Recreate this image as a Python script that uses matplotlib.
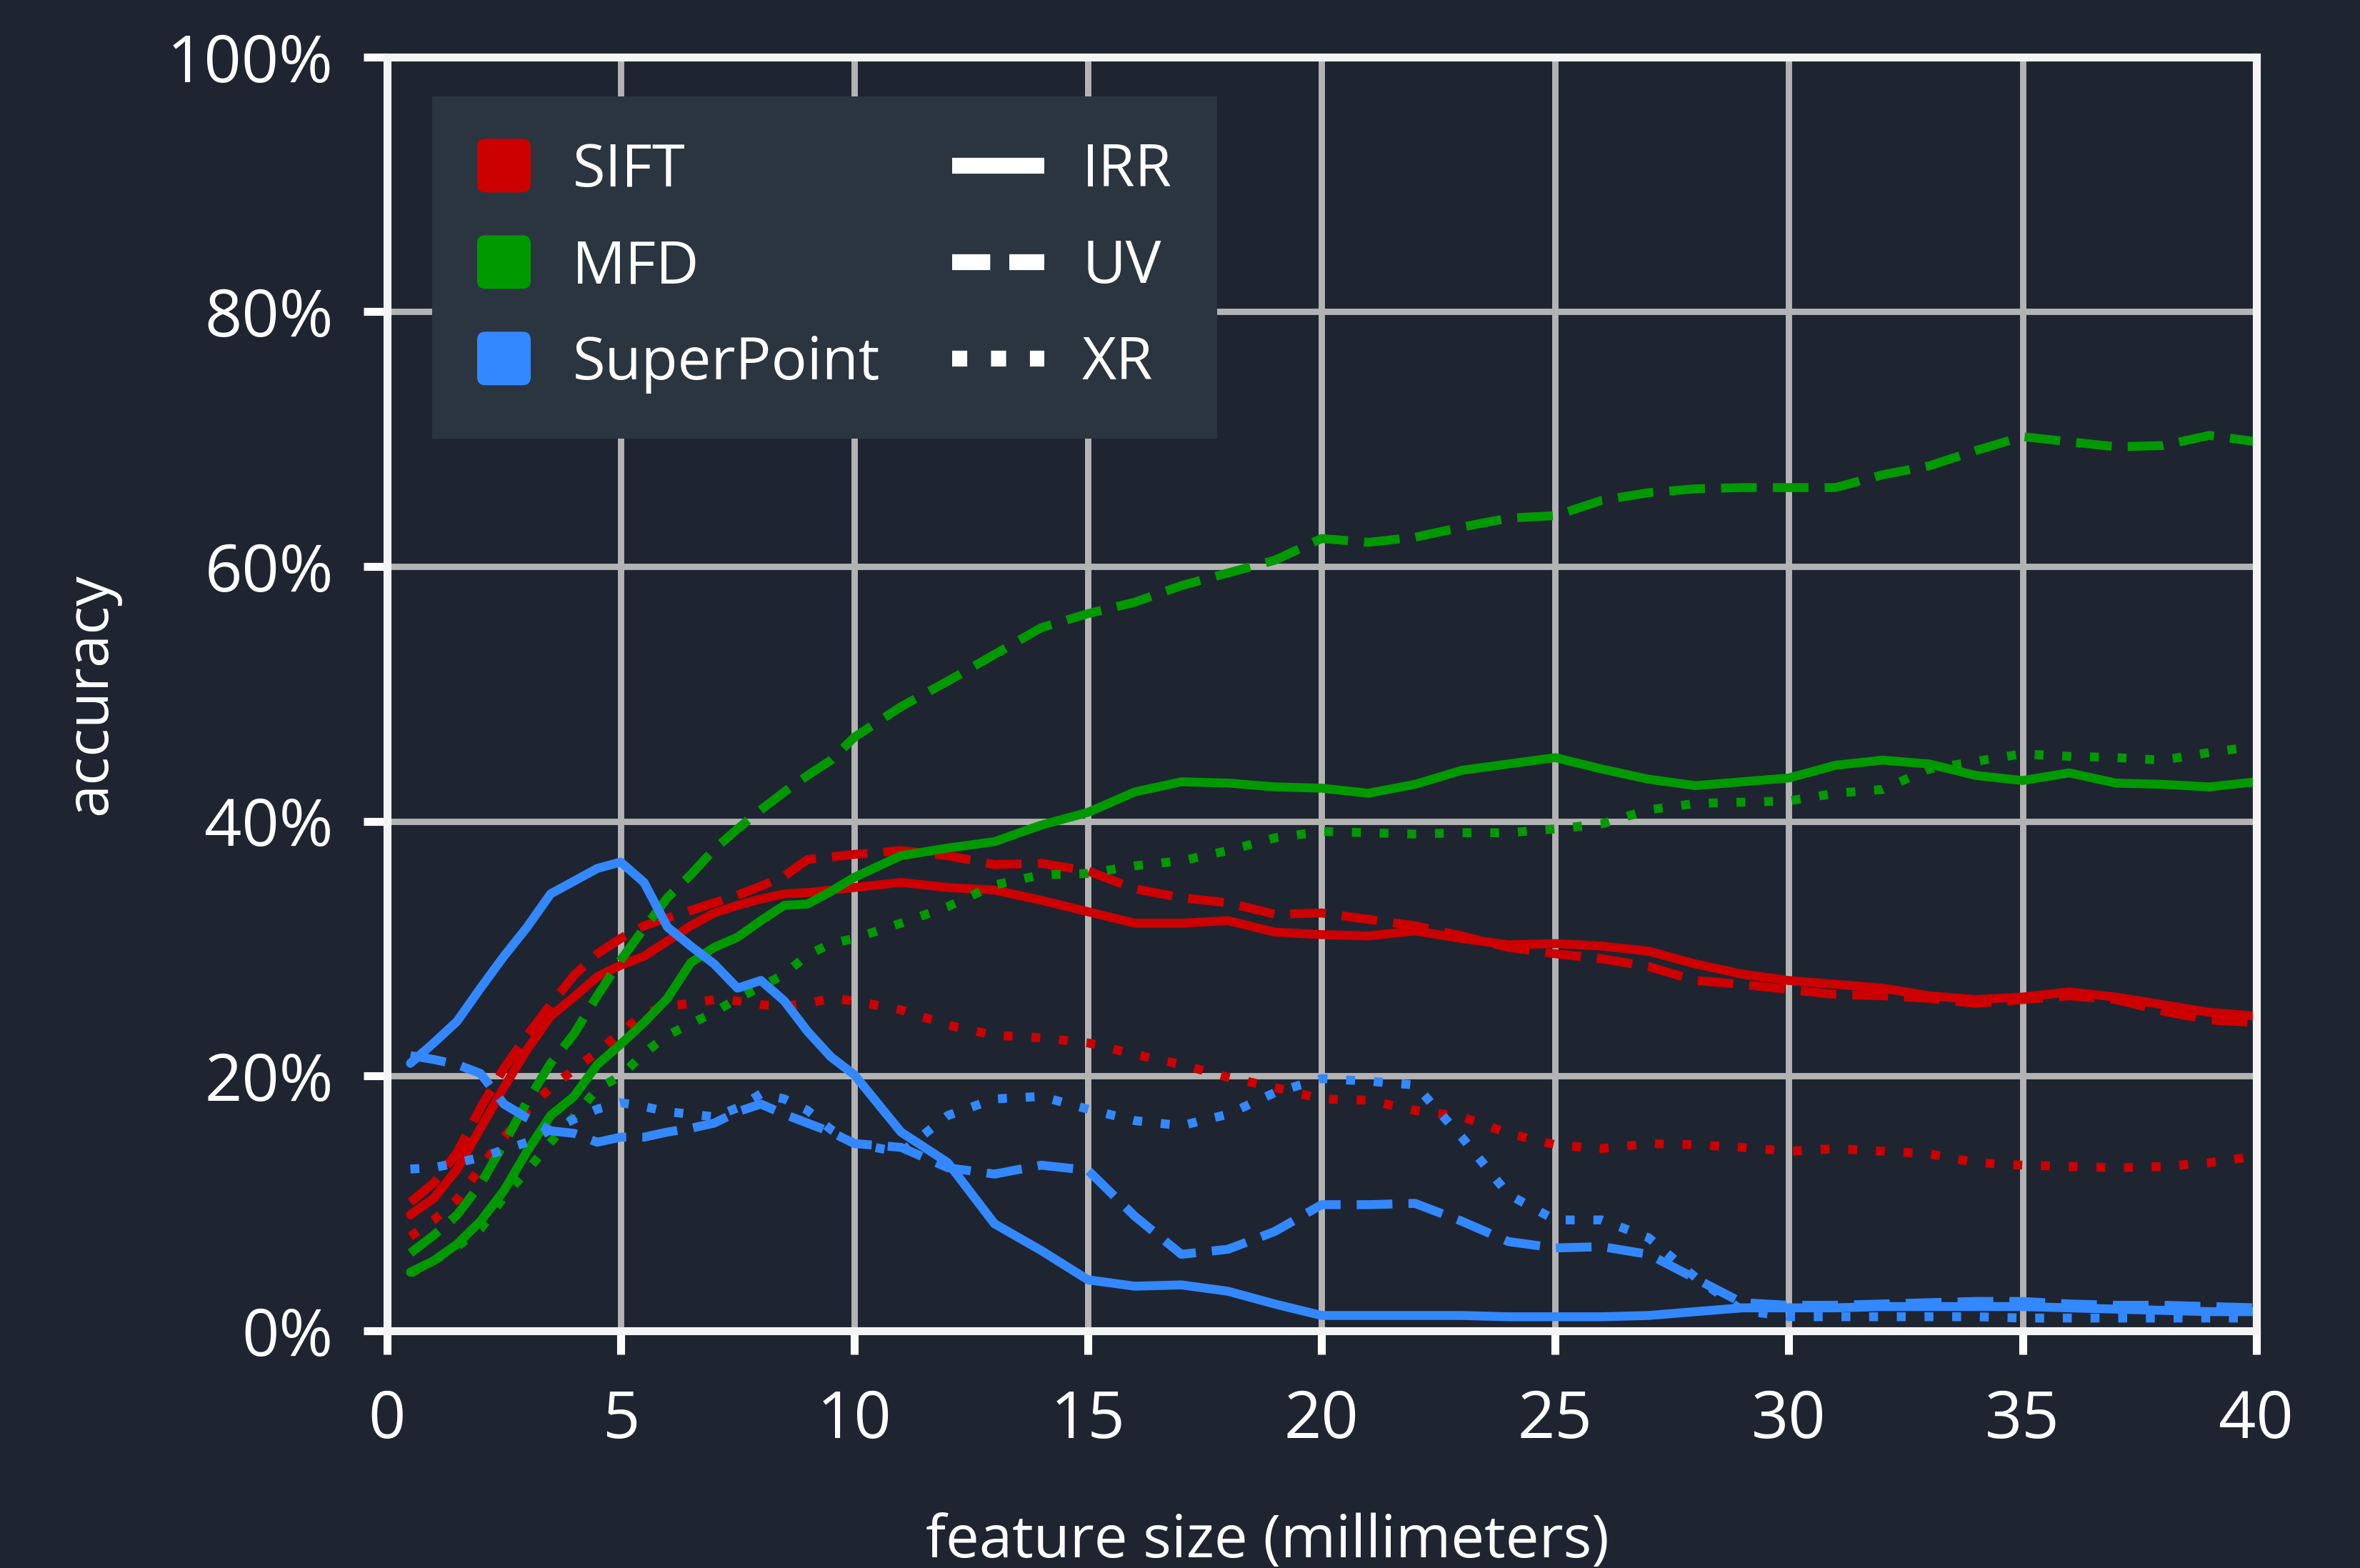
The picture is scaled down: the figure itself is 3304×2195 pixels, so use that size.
import numpy as np
import matplotlib
matplotlib.use('Agg')
import matplotlib.pyplot as plt
from matplotlib.lines import Line2D
from matplotlib.patches import Patch, FancyBboxPatch
from matplotlib.legend_handler import HandlerPatch, HandlerLine2D
from matplotlib.ticker import PercentFormatter

plt.rcParams['font.family'] = ['Open Sans', 'DejaVu Sans']

# %% data (accuracy in percent)
feature_mm = [0.5, 1.0, 1.5, 2.0, 2.5, 3.0, 3.5, 4.0, 4.5, 5.0,
              5.5, 6.0, 6.5, 7.0, 7.5, 8.0, 8.5, 9.0, 9.5, 10.0,
              11, 12, 13, 14, 15, 16, 17, 18, 19, 20,
              21, 22, 23, 24, 25, 26, 27, 28, 29, 30,
              31, 32, 33, 34, 35, 36, 37, 38, 39, 40]

sift_irr = [9.1, 10.4, 12.7, 15.9, 19.1, 22.1, 24.7, 26.2, 27.8, 28.7,
            29.4, 30.6, 31.8, 32.8, 33.4, 33.9, 34.3, 34.4, 34.6, 34.8,
            35.2, 34.8, 34.6, 33.8, 32.9, 32.0, 32.0, 32.2, 31.3, 31.1,
            31.0, 31.4, 30.8, 30.3, 30.4, 30.2, 29.8, 28.8, 28.0, 27.5,
            27.2, 26.9, 26.3, 26.0, 26.2, 26.6, 26.2, 25.6, 25.0, 24.7]
sift_uv = [10.1, 11.6, 14.0, 17.5, 20.6, 23.2, 25.6, 27.9, 29.6, 30.8,
           31.8, 32.4, 33.0, 33.6, 34.2, 34.9, 35.7, 37.0, 37.2, 37.4,
           37.7, 37.3, 36.6, 36.7, 36.1, 34.7, 34.0, 33.6, 32.7, 32.8,
           32.3, 31.8, 31.0, 30.1, 29.6, 29.2, 28.6, 27.5, 27.2, 26.8,
           26.4, 26.3, 26.1, 25.7, 26.0, 26.3, 26.0, 25.1, 24.4, 24.2]
sift_xr = [7.4, 8.7, 10.3, 12.8, 15.2, 17.3, 19.1, 20.5, 21.9, 23.4,
           24.9, 25.5, 25.7, 26.0, 25.9, 25.6, 25.5, 25.7, 26.1, 25.9,
           25.2, 24.0, 23.2, 23.0, 22.6, 21.7, 20.9, 19.9, 19.1, 18.2,
           18.1, 17.3, 16.8, 15.5, 14.6, 14.3, 14.7, 14.6, 14.4, 14.1,
           14.3, 14.1, 13.9, 13.2, 13.0, 12.9, 12.8, 12.9, 13.2, 13.7]

mfd_irr = [4.6, 5.5, 6.8, 8.6, 11.0, 14.1, 16.9, 18.4, 20.9, 22.5,
           24.2, 26.1, 28.9, 30.1, 30.9, 32.2, 33.4, 33.5, 34.5, 35.6,
           37.3, 37.9, 38.4, 39.7, 40.7, 42.3, 43.1, 43.0, 42.7, 42.6,
           42.2, 42.9, 44.0, 44.5, 45.0, 44.1, 43.3, 42.8, 43.1, 43.4,
           44.4, 44.8, 44.5, 43.6, 43.2, 43.8, 43.0, 42.9, 42.7, 43.1]
mfd_uv = [6.1, 7.5, 9.1, 11.5, 14.7, 18.0, 21.0, 23.3, 26.3, 29.1,
          31.6, 34.0, 35.8, 37.8, 39.4, 40.9, 42.3, 43.6, 44.8, 46.6,
          49.0, 51.0, 53.1, 55.2, 56.3, 57.2, 58.5, 59.5, 60.5, 62.2,
          61.9, 62.3, 63.1, 63.8, 64.0, 65.2, 65.8, 66.1, 66.2, 66.2,
          66.2, 67.2, 67.9, 69.1, 70.2, 69.8, 69.4, 69.5, 70.3, 69.8]
mfd_xr = [4.5, 5.5, 6.6, 8.0, 10.5, 12.6, 14.8, 16.8, 19.0, 20.0,
          21.8, 23.2, 24.1, 25.0, 26.1, 27.0, 28.0, 29.5, 30.4, 30.8,
          32.0, 33.3, 35.0, 35.8, 35.9, 36.5, 36.9, 37.7, 38.7, 39.2,
          39.1, 39.0, 39.1, 39.1, 39.4, 39.8, 40.9, 41.4, 41.5, 41.6,
          42.2, 42.5, 44.1, 44.7, 45.3, 45.1, 45.0, 44.8, 45.4, 45.9]

sp_irr = [21.0, 22.6, 24.3, 26.9, 29.4, 31.7, 34.3, 35.3, 36.3, 36.8,
          35.2, 31.7, 30.2, 28.8, 26.9, 27.5, 25.9, 23.5, 21.5, 20.1,
          15.6, 13.2, 8.4, 6.3, 4.0, 3.5, 3.6, 3.1, 2.1, 1.2,
          1.2, 1.2, 1.2, 1.1, 1.1, 1.1, 1.2, 1.5, 1.8, 1.8,
          1.8, 1.9, 1.9, 1.9, 1.9, 1.8, 1.7, 1.6, 1.5, 1.5]
sp_uv = [21.6, 21.3, 20.9, 20.2, 17.8, 16.7, 15.7, 15.5, 14.8, 15.2,
         15.2, 15.6, 15.9, 16.3, 17.2, 17.8, 17.0, 16.3, 15.6, 14.7,
         14.4, 12.8, 12.3, 13.0, 12.6, 9.0, 6.0, 6.4, 7.8, 9.9,
         9.9, 10.0, 8.6, 7.0, 6.5, 6.6, 6.0, 4.1, 2.2, 2.0,
         2.0, 2.1, 2.2, 2.3, 2.3, 2.1, 2.0, 2.0, 1.9, 1.8]
sp_xr = [12.7, 12.8, 13.2, 13.6, 14.2, 14.8, 15.8, 16.6, 17.4, 17.9,
         17.6, 17.2, 17.0, 16.8, 17.5, 18.6, 18.2, 17.3, 15.8, 14.7,
         14.0, 16.9, 18.2, 18.4, 17.4, 16.5, 16.1, 17.0, 18.7, 19.8,
         19.6, 19.3, 15.2, 10.7, 8.7, 8.7, 7.3, 4.2, 1.6, 1.1,
         1.1, 1.1, 1.1, 1.1, 1.0, 1.0, 1.0, 1.0, 1.0, 1.0]

methods = ['SIFT', 'MFD', 'SuperPoint']
modalities = ['IRR', 'UV', 'XR']
series = {
    'SIFT': [sift_irr, sift_uv, sift_xr],
    'MFD': [mfd_irr, mfd_uv, mfd_xr],
    'SuperPoint': [sp_irr, sp_uv, sp_xr],
}

# %% style
bg = '#1e2530'
colors = {'SIFT': '#cc0000', 'MFD': '#009900', 'SuperPoint': '#3388ff'}
styles = {'IRR': '-', 'UV': (0, (4.0, 1.8)), 'XR': (0, (1.0, 2.1))}
legend_styles = {'IRR': '-', 'UV': (0, (2.4, 1.2)), 'XR': (0, (0.95, 1.5))}

fig = plt.figure(figsize=(16.52, 10.975), dpi=200, facecolor=bg)
ax = fig.add_axes([0.164, 0.1513, 0.792, 0.8123], facecolor=bg)

for m in methods:
    for mod, vals in zip(modalities, series[m]):
        ax.plot(feature_mm, vals, color=colors[m], linestyle=styles[mod],
                lw=4.5, dash_capstyle='butt', solid_capstyle='round')

ax.set_xlim(0, 40)
ax.set_ylim(0, 100)
ax.set_xticks(range(0, 41, 5))
ax.set_yticks(range(0, 101, 20))
ax.yaxis.set_major_formatter(PercentFormatter(100, decimals=0))
ax.set_axisbelow(True)
ax.grid(True, color='#b3b3b3', lw=3.2)
for s in ax.spines.values():
    s.set_color('#f4f4f4')
    s.set_linewidth(4)
ax.tick_params(axis='both', colors='white', labelsize=33, length=12, width=4)
ax.tick_params(axis='x', pad=17)
ax.tick_params(axis='y', pad=15)

ax.set_xlabel('feature size (millimeters)', color='white', fontsize=30)
ax.set_ylabel('accuracy', color='white', fontsize=30)
ax.xaxis.set_label_coords(0.471, -0.143)
ax.yaxis.set_label_coords(-0.143, 0.5)


# legend: rounded colour squares for methods, line styles for modalities
def square_patch(legend, orig_handle, xdescent, ydescent, width, height, fontsize):
    side = 0.9 * fontsize
    yc = -ydescent + height / 2
    return FancyBboxPatch((-xdescent, yc - side / 2), side, side,
                          boxstyle='round,pad=0,rounding_size=%f' % (side * 0.15))


class LongLine(HandlerLine2D):
    # line sample reaching left into the column gap
    def get_xdata(self, legend, xdescent, ydescent, width, height, fontsize):
        x = np.array([-xdescent - 0.58 * fontsize, -xdescent + width])
        return x, x


handles = [Patch(facecolor=colors[m], edgecolor='none') for m in methods]
handles += [Line2D([], [], color='white', lw=8, linestyle=legend_styles[mod],
                   dash_capstyle='butt', solid_capstyle='butt') for mod in modalities]
leg = ax.legend(handles, methods + modalities, ncol=2, loc='upper left',
                bbox_to_anchor=(0.024, 0.969), borderaxespad=0, fontsize=30,
                borderpad=0.76, handlelength=0.96, handleheight=0.7,
                handletextpad=0.64, columnspacing=1.8, labelspacing=0.63,
                fancybox=False, facecolor='#2b3540', edgecolor='none',
                framealpha=1, labelcolor='white',
                handler_map={Patch: HandlerPatch(patch_func=square_patch),
                             Line2D: LongLine()})

fig.savefig('out.png', dpi=200, facecolor=bg)
